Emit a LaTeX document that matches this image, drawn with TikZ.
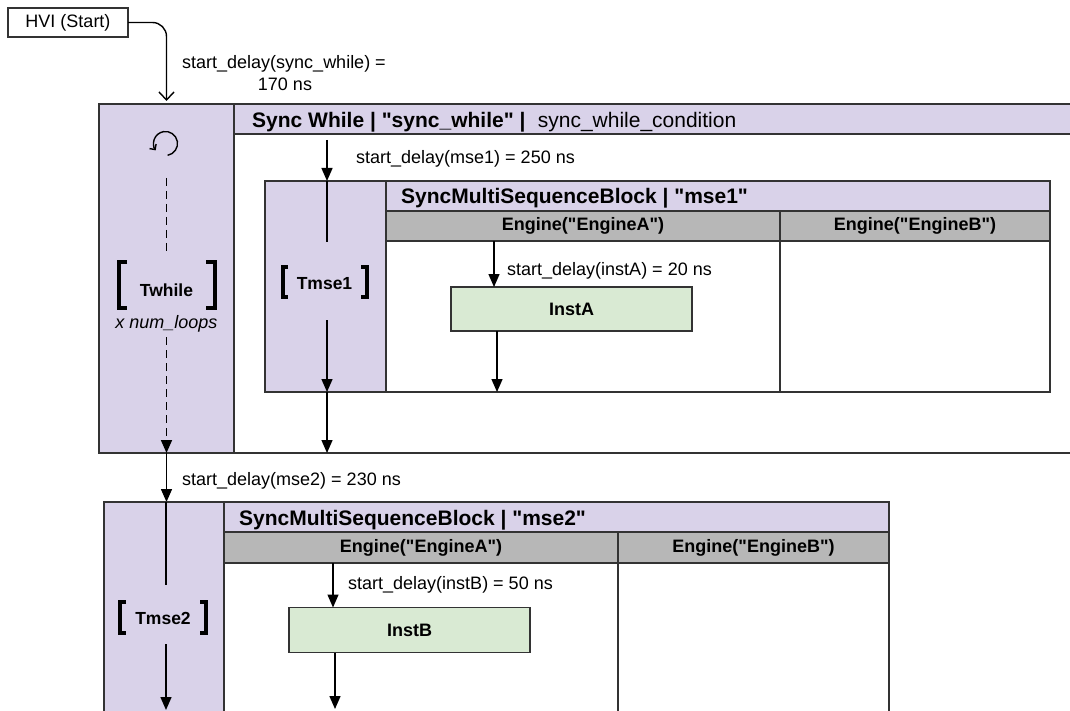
\documentclass[tikz,border=0pt]{standalone}
\usepackage{fontspec}
\setmainfont{Liberation Sans}[Ligatures=TeXOff]
\usetikzlibrary{arrows.meta,calc}
\definecolor{purp}{HTML}{D9D2E9}
\definecolor{hdr}{HTML}{B7B7B7}
\definecolor{grn}{HTML}{D9EAD3}
\definecolor{bord}{HTML}{333333}
\begin{document}
\begin{tikzpicture}[x=1pt,y=-1pt,
  box/.style={draw=bord,line width=1.6pt,inner sep=0pt,outer sep=0pt,anchor=north west},
  pbox/.style={box,fill=purp},
  gbox/.style={box,fill=hdr,line width=2pt,font=\bfseries\fontsize{18}{20}\selectfont},
  ibox/.style={box,fill=grn,font=\bfseries\fontsize{18}{20}\selectfont},
  wbox/.style={box,fill=white},
  lbl/.style={font=\fontsize{18}{20}\selectfont,inner sep=0pt,anchor=base west},
  hd/.style={font=\bfseries\fontsize{21}{24}\selectfont,inner sep=0pt,anchor=base west},
  hdn/.style={font=\fontsize{21}{24}\selectfont,inner sep=0pt,anchor=base west},
  tlbl/.style={font=\bfseries\fontsize{17.5}{20}\selectfont,inner sep=0pt,anchor=base},
  wire/.style={line width=1.4pt},
  arr/.style={wire,-{Triangle[width=11pt,length=13pt]}},
  brk/.style={line width=4pt}
]
\useasboundingbox (0,0) rectangle (1070,711);
\clip (0,0) rectangle (1070,711);

% HVI start
\node[wbox,minimum width=120,minimum height=29,font=\fontsize{18}{20}\selectfont] (hvi) at (8,8) {HVI (Start)};

% outer sync while block
\node[wbox,minimum width=1000,minimum height=349] (wbody) at (99,104) {};
\node[pbox,minimum width=135,minimum height=349] (wcol) at (99,104) {};
\node[pbox,minimum width=870,minimum height=30] (whead) at (234,104) {};
\node[hd] (wht) at (252,128) {Sync While | "sync\_while" |};
\node[hdn] (whc) at ($(wht.base east)+(12,0)$) {sync\_while\_condition};

\draw[wire,-{Straight Barb[length=8pt,width=15pt]},rounded corners=14pt] (hvi.east) -| ($(wcol.north)+(0,-3)$);
\node[lbl] (l0a) at (182,68.5) {start\_delay(sync\_while) =};
\node[lbl,anchor=base] (l0b) at (285,90.5) {170 ns};

% loop symbol and Twhile
\coordinate (lc) at (165.5,143.5);
\draw[wire,-{Straight Barb[length=4pt,width=8pt]}] ($(lc)+(80:12)$) arc[start angle=80,end angle=-215,radius=12];
\draw[line width=1.6pt,dash pattern=on 8pt off 5pt] (166.5,178) -- (166.5,255);
\draw[brk] (127,262) -- (119,262) -- (119,308) -- (127,308);
\draw[brk] (206,262) -- (215,262) -- (215,308) -- (206,308);
\node[tlbl] (tw) at (166.5,296) {Twhile};
\node[font=\itshape\fontsize{18}{20}\selectfont,inner sep=0pt,anchor=base] (nl) at (166.5,328.5) {x num\_loops};
\draw[arr,line width=1.6pt,dash pattern=on 8pt off 5pt] (166.5,337) -- (wcol.south);

% mse1 block
\node[wbox,minimum width=785,minimum height=211] (m1) at (265,181) {};
\node[pbox,minimum width=121,minimum height=211] (m1col) at (265,181) {};
\node[pbox,minimum width=664,minimum height=30] (m1head) at (386,181) {};
\node[hd] (m1t) at (401,204) {SyncMultiSequenceBlock | "mse1"};
\node[gbox,minimum width=394,minimum height=30] (m1ea) at (386,211) {Engine("EngineA")};
\node[gbox,minimum width=270,minimum height=30] (m1eb) at (780,211) {Engine("EngineB")};
\draw[draw=bord,line width=1.6pt] (m1eb.south west) -- (m1eb.south west |- m1.south);

\draw[arr] (327,140) -- (m1col.north -| 327,0);
\node[lbl] (l1) at (356,163.5) {start\_delay(mse1) = 250 ns};
\draw[wire] (m1col.north -| 327,0) -- (327,242);
\draw[brk] (288,267) -- (282.5,267) -- (282.5,297) -- (288,297);
\draw[brk] (361,267) -- (366.5,267) -- (366.5,297) -- (361,297);
\node[tlbl] (tm1) at (324.5,289) {Tmse1};
\draw[arr] (327,320) -- (m1col.south -| 327,0);
\draw[arr] (m1col.south -| 327,0) -- (wbody.south -| 327,0);

% InstA
\node[ibox,minimum width=241,minimum height=44] (instA) at (451,287) {InstA};
\draw[arr] (m1ea.south -| 494,0) -- (instA.north -| 494,0);
\node[lbl] (la) at (507,275.5) {start\_delay(instA) = 20 ns};
\draw[arr] (instA.south -| 497,0) -- (m1.south -| 497,0);

% between
\draw[arr] (wcol.south) -- (166.5,502);
\node[lbl] (l2) at (182,485.5) {start\_delay(mse2) = 230 ns};

% mse2 block
\node[wbox,minimum width=785,minimum height=260] (m2) at (104,502) {};
\node[pbox,minimum width=120,minimum height=260] (m2col) at (104,502) {};
\node[pbox,minimum width=665,minimum height=30] (m2head) at (224,502) {};
\node[hd] (m2t) at (239,525) {SyncMultiSequenceBlock | "mse2"};
\node[gbox,minimum width=394,minimum height=31] (m2ea) at (224,532) {Engine("EngineA")};
\node[gbox,minimum width=271,minimum height=31] (m2eb) at (618,532) {Engine("EngineB")};
\draw[draw=bord,line width=1.6pt] (m2eb.south west) -- (m2eb.south west |- m2.south);

\draw[wire] (m2col.north -| 166,0) -- (166,585);
\draw[brk] (126,602) -- (120,602) -- (120,633) -- (126,633);
\draw[brk] (200,602) -- (206,602) -- (206,633) -- (200,633);
\node[tlbl] (tm2) at (163,624) {Tmse2};
\draw[arr] (166,644) -- (166,710);

% InstB
\node[ibox,minimum width=241,minimum height=45] (instB) at (289,607.5) {InstB};
\draw[arr] (m2ea.south -| 333,0) -- (instB.north -| 333,0);
\node[lbl] (lb) at (348,589.5) {start\_delay(instB) = 50 ns};
\draw[arr] (instB.south -| 335,0) -- (335,709);
\end{tikzpicture}
\end{document}
